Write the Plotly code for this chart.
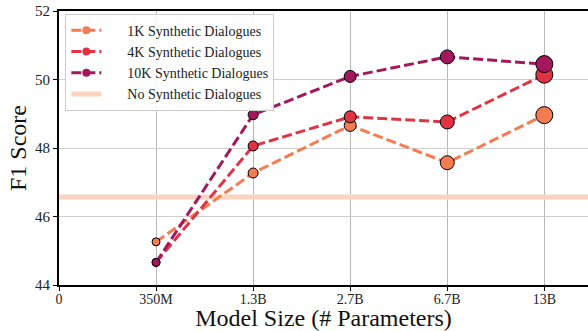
import plotly.graph_objects as go

model_sizes = ["350M", "1.3B", "2.7B", "6.7B", "13B"]
x_pos = [1, 2, 3, 4, 5]
tick_vals = [0, 1, 2, 3, 4, 5]
tick_text = ["0", "350M", "1.3B", "2.7B", "6.7B", "13B"]

f1_1k = [45.26, 47.27, 48.66, 47.57, 48.96]
f1_4k = [44.66, 48.06, 48.91, 48.76, 50.14]
f1_10k = [44.66, 48.97, 50.09, 50.66, 50.45]
no_synth = 46.57

marker_sizes = [8, 10, 12, 14, 17]

colors = {"1K": "#F47B52", "4K": "#E03444", "10K": "#A3185D"}
series = [("1K Synthetic Dialogues", f1_1k, colors["1K"]),
          ("4K Synthetic Dialogues", f1_4k, colors["4K"]),
          ("10K Synthetic Dialogues", f1_10k, colors["10K"])]

dash_style = "10px,4px"
pad = "\u00a0" * 6

fig = go.Figure()
fig.add_trace(go.Scatter(
    x=[0, 5.45], y=[no_synth, no_synth], mode="lines",
    line=dict(color="#FCD3BF", width=5), name=pad + "No Synthetic Dialogues",
    legendrank=4))
for i, (name, ys, c) in enumerate(series):
    fig.add_trace(go.Scatter(
        x=x_pos, y=ys, mode="lines+markers", name=name, showlegend=False,
        line=dict(color=c, width=3, dash=dash_style),
        marker=dict(color=c, size=marker_sizes, opacity=1,
                    line=dict(color="black", width=1))))
    # legend-only entry with a uniform marker
    fig.add_trace(go.Scatter(
        x=[None], y=[None], mode="lines+markers", name=pad + name,
        line=dict(color=c, width=3, dash=dash_style),
        marker=dict(color=c, size=8, opacity=1),
        legendrank=i + 1))

font_family = "Liberation Serif"
fig.update_layout(
    width=588, height=331,
    margin=dict(l=59, r=0, t=11, b=46, autoexpand=False),
    plot_bgcolor="white", paper_bgcolor="white",
    font=dict(family=font_family, color="#222", size=14),
    showlegend=True,
    legend=dict(x=0.012, y=0.99, xanchor="left", yanchor="top",
                bgcolor="rgba(255,255,255,0.9)", bordercolor="#CCCCCC", borderwidth=1,
                font=dict(family=font_family, size=14, color="#222"),
                tracegroupgap=0),
    xaxis=dict(range=[0, 5.45], tickvals=tick_vals, ticktext=tick_text,
               showgrid=True, gridcolor="#B8B8B8", gridwidth=1,
               showline=True, linecolor="black", linewidth=2, mirror=True,
               ticks="outside", ticklen=4, tickcolor="black",
               zeroline=False, automargin=False, ticklabelstandoff=-4,
               title=dict(text="Model Size (# Parameters)", font=dict(size=24, family=font_family, color="#111"), standoff=6),
               tickfont=dict(size=14, family=font_family)),
    yaxis=dict(range=[44, 52], tickvals=[44, 46, 48, 50, 52],
               showgrid=True, gridcolor="#CFCFCF", gridwidth=1,
               showline=True, linecolor="black", linewidth=2,
               ticks="outside", ticklen=4, tickcolor="black",
               zeroline=False, automargin=False,
               title=dict(text="F1 Score", font=dict(size=24, family=font_family, color="#111"), standoff=2),
               tickfont=dict(size=15, family=font_family)),
)

fig.write_html("out.html", config={"displayModeBar": False},
               post_script="document.body.style.margin='0px';document.body.style.overflow='hidden';")
